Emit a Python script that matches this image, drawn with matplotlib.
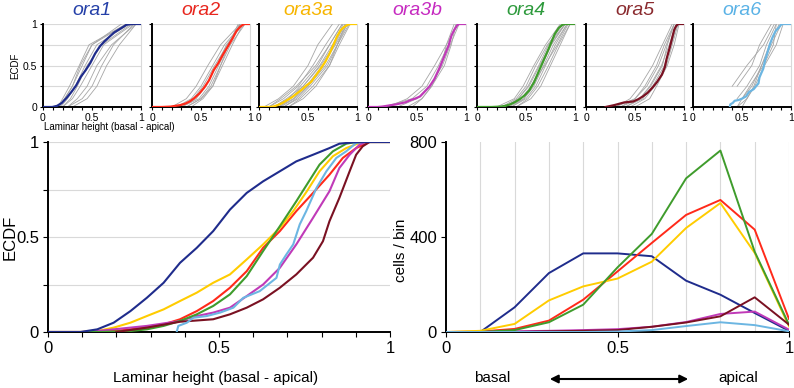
import numpy as np
import matplotlib
matplotlib.use("Agg")
import matplotlib.pyplot as plt

plt.rcParams['font.family'] = ['Liberation Sans', 'DejaVu Sans']

names = ['ora1', 'ora2', 'ora3a', 'ora3b', 'ora4', 'ora5', 'ora6']
colors = ['#1f2c8c', '#ff2a1a', '#ffcc00', '#c03ab8', '#3f9c2c', '#7a1122', '#6cb6e2']
title_colors = ['#2540a8', '#e8261e', '#f7b500', '#c62ac0', '#2d9a3c', '#8a2a2e', '#5ab2e6']

# pooled ECDFs (x, y)
ecdf_x = {
    'ora1': [0, 0.095, 0.144, 0.192, 0.241, 0.289, 0.338, 0.386, 0.435, 0.483, 0.532, 0.581,
             0.629, 0.678, 0.726, 0.775, 0.823, 0.852, 0.891, 0.93, 1],
    'ora2': [0, 0.1, 0.192, 0.289, 0.338, 0.386, 0.435, 0.483, 0.532, 0.581, 0.629, 0.678,
             0.726, 0.775, 0.823, 0.862, 0.901, 0.94, 1],
    'ora3a': [0, 0.1, 0.144, 0.192, 0.241, 0.289, 0.338, 0.386, 0.435, 0.483, 0.532, 0.581,
              0.629, 0.678, 0.717, 0.757, 0.794, 0.833, 0.872, 0.911, 0.94, 1],
    'ora3b': [0, 0.1, 0.144, 0.192, 0.289, 0.386, 0.435, 0.483, 0.532, 0.581, 0.629, 0.678,
              0.726, 0.775, 0.823, 0.852, 0.882, 0.911, 0.93, 1],
    'ora4': [0, 0.15, 0.241, 0.289, 0.338, 0.386, 0.435, 0.483, 0.532, 0.581, 0.629, 0.678,
             0.726, 0.757, 0.794, 0.833, 0.872, 0.9, 1],
    'ora5': [0.2, 0.289, 0.386, 0.483, 0.532, 0.581, 0.629, 0.678, 0.726, 0.775, 0.804, 0.823,
             0.852, 0.882, 0.901, 0.92, 0.94, 1],
    'ora6': [0.377, 0.381, 0.406, 0.425, 0.464, 0.503, 0.542, 0.571, 0.619, 0.668, 0.678, 0.697,
             0.717, 0.736, 0.755, 0.785, 0.814, 0.843, 0.872, 0.901, 0.92, 1],
}
ecdf_y = {
    'ora1': [0, 0, 0.014, 0.049, 0.11, 0.18, 0.259, 0.364, 0.443, 0.531, 0.644, 0.732,
             0.793, 0.846, 0.898, 0.933, 0.968, 0.991, 0.998, 1, 1],
    'ora2': [0, 0, 0.005, 0.023, 0.04, 0.067, 0.11, 0.163, 0.233, 0.32, 0.443, 0.531,
             0.636, 0.732, 0.828, 0.916, 0.968, 1, 1],
    'ora3a': [0, 0, 0.005, 0.023, 0.049, 0.084, 0.119, 0.163, 0.207, 0.259, 0.303, 0.382,
              0.461, 0.548, 0.636, 0.741, 0.846, 0.925, 0.968, 0.995, 1, 1],
    'ora3b': [0, 0, 0.005, 0.014, 0.032, 0.058, 0.084, 0.102, 0.128, 0.189, 0.25, 0.338,
              0.461, 0.601, 0.741, 0.863, 0.933, 0.986, 1, 1],
    'ora4': [0, 0, 0.005, 0.014, 0.032, 0.058, 0.093, 0.137, 0.198, 0.294, 0.426, 0.557,
             0.688, 0.776, 0.881, 0.951, 0.991, 1, 1],
    'ora5': [0, 0.023, 0.054, 0.067, 0.093, 0.128, 0.172, 0.233, 0.303, 0.391, 0.478, 0.583,
             0.706, 0.846, 0.933, 0.977, 1, 1],
    'ora6': [0.005, 0.032, 0.049, 0.075, 0.084, 0.102, 0.128, 0.18, 0.215, 0.285, 0.355, 0.408,
             0.461, 0.566, 0.636, 0.758, 0.846, 0.916, 0.951, 0.995, 1, 1],
}

# individual samples: x at ECDF levels below (nan = curve starts higher)
levels = [0, 0.1, 0.25, 0.5, 0.75, 1]
nan = np.nan
samples = {
    'ora1': [[0.15, 0.2, 0.27, 0.37, 0.47, 0.85], [0.17, 0.22, 0.3, 0.4, 0.5, 0.8],
             [0.18, 0.25, 0.33, 0.43, 0.55, 0.88], [0.2, 0.28, 0.35, 0.45, 0.6, 0.9],
             [0.2, 0.3, 0.38, 0.5, 0.62, 0.92], [0.25, 0.35, 0.45, 0.55, 0.7, 0.95],
             [0.25, 0.4, 0.5, 0.6, 0.72, 0.93], [0.3, 0.45, 0.55, 0.65, 0.78, 0.95],
             [0.15, 0.22, 0.3, 0.38, 0.5, 0.85]],
    'ora2': [[0.2, 0.35, 0.45, 0.57, 0.7, 0.9], [0.25, 0.4, 0.5, 0.62, 0.74, 0.92],
             [0.3, 0.45, 0.55, 0.66, 0.76, 0.93], [0.3, 0.48, 0.58, 0.68, 0.78, 0.9],
             [0.35, 0.5, 0.6, 0.7, 0.8, 0.95], [0.4, 0.52, 0.62, 0.72, 0.82, 0.93],
             [0.28, 0.42, 0.52, 0.64, 0.77, 0.9], [0.35, 0.5, 0.62, 0.7, 0.78, 0.88]],
    'ora3a': [[0.05, 0.2, 0.35, 0.5, 0.6, 0.75], [0.1, 0.25, 0.4, 0.55, 0.68, 0.82],
              [0.15, 0.3, 0.42, 0.6, 0.72, 0.85], [0.2, 0.32, 0.45, 0.62, 0.75, 0.88],
              [0.2, 0.35, 0.48, 0.65, 0.78, 0.9], [0.25, 0.38, 0.5, 0.68, 0.8, 0.9],
              [0.25, 0.4, 0.52, 0.7, 0.8, 0.92], [0.3, 0.42, 0.55, 0.72, 0.82, 0.93],
              [0.15, 0.28, 0.45, 0.63, 0.77, 0.88], [0.3, 0.45, 0.58, 0.72, 0.8, 0.88],
              [0.1, 0.22, 0.38, 0.58, 0.72, 0.85], [0.22, 0.36, 0.5, 0.66, 0.76, 0.86]],
    'ora3b': [[0.2, 0.4, 0.55, 0.68, 0.8, 0.92], [0.15, 0.45, 0.6, 0.72, 0.82, 0.9],
              [0.3, 0.5, 0.63, 0.76, 0.84, 0.93], [0.4, 0.55, 0.65, 0.78, 0.85, 0.9],
              [0.45, 0.55, 0.65, 0.75, 0.8, 0.88]],
    'ora4': [[0.2, 0.38, 0.47, 0.58, 0.7, 0.85], [0.25, 0.4, 0.5, 0.6, 0.72, 0.88],
             [0.3, 0.42, 0.52, 0.63, 0.73, 0.9], [0.3, 0.45, 0.55, 0.66, 0.76, 0.9],
             [0.32, 0.48, 0.58, 0.68, 0.78, 0.92], [0.35, 0.5, 0.6, 0.7, 0.8, 0.92],
             [0.4, 0.52, 0.62, 0.73, 0.83, 0.95], [0.4, 0.55, 0.65, 0.75, 0.85, 0.95],
             [0.35, 0.48, 0.55, 0.69, 0.82, 0.93], [0.28, 0.42, 0.53, 0.64, 0.75, 0.9]],
    'ora5': [[0.3, 0.45, 0.55, 0.68, 0.78, 0.88], [0.3, 0.5, 0.6, 0.72, 0.8, 0.9],
             [0.35, 0.5, 0.62, 0.74, 0.82, 0.9], [0.4, 0.55, 0.65, 0.77, 0.85, 0.92],
             [0.4, 0.58, 0.68, 0.8, 0.87, 0.93], [0.45, 0.6, 0.7, 0.82, 0.88, 0.94],
             [0.5, 0.65, 0.72, 0.83, 0.9, 0.95], [0.35, 0.55, 0.66, 0.78, 0.83, 0.9]],
    'ora6': [[nan, nan, 0.4, 0.55, 0.72, 0.83], [nan, nan, 0.45, 0.6, 0.68, 0.8],
             [nan, 0.45, 0.55, 0.68, 0.75, 0.85], [0.45, 0.5, 0.6, 0.7, 0.78, 0.88],
             [0.5, 0.55, 0.62, 0.7, 0.8, 0.9], [nan, 0.5, 0.58, 0.72, 0.82, 0.85],
             [0.45, 0.55, 0.63, 0.73, 0.85, 0.92]],
}

# cells per bin
bins = [0, 0.1, 0.2, 0.3, 0.4, 0.5, 0.6, 0.7, 0.8, 0.9, 1.0]
counts = {
    'ora1': [0, 0, 104, 248, 331, 331, 319, 216, 157, 80, 5],
    'ora2': [0, 2, 13, 48, 136, 255, 375, 493, 556, 431, 55],
    'ora3a': [0, 5, 34, 133, 192, 225, 296, 438, 543, 333, 24],
    'ora3b': [0, 0, 3, 5, 8, 12, 22, 42, 76, 86, 10],
    'ora4': [0, 0, 8, 41, 115, 272, 413, 647, 764, 338, 31],
    'ora5': [0, 0, 0, 3, 5, 8, 22, 40, 66, 146, 31],
    'ora6': [0, 0, 0, 0, 0, 2, 8, 25, 41, 29, 3],
}

W, H = 794, 388
fig = plt.figure(figsize=(W / 100, H / 100), dpi=100)
grid_c = '#d9d9d9'


def px_axes(x0, y0, x1, y1):
    return fig.add_axes([x0 / W, 1 - y1 / H, (x1 - x0) / W, (y1 - y0) / H])


def style_ecdf(ax, size, ylabels):
    ax.set_xlim(0, 1)
    ax.set_ylim(0, 1)
    ax.set_xticks(np.arange(0, 1.01, 0.1))
    ax.set_xticklabels(['0', '', '', '', '', '0.5', '', '', '', '', '1'])
    ax.set_yticks([0, 0.25, 0.5, 0.75, 1])
    if ylabels:
        ax.set_yticklabels(['0', '', '0.5', '', '1'])
    else:
        ax.set_yticklabels([])
    for y in [0.25, 0.5, 0.75, 1]:
        ax.axhline(y, color=grid_c, lw=0.8, zorder=0)
    ax.spines['top'].set_visible(False)
    ax.spines['right'].set_color(grid_c)
    ax.spines['left'].set_linewidth(1.4)
    ax.spines['bottom'].set_linewidth(1.4)
    ax.tick_params(labelsize=size, length=2.5 if size < 10 else 3.5, width=0.8,
                   pad=1.5 if size < 10 else 3)


# top small panels
lefts = [43, 152, 259, 368, 477, 586, 693]
for i, nm in enumerate(names):
    ax = px_axes(lefts[i], 24, lefts[i] + 98, 107)
    style_ecdf(ax, 7.5, i == 0)
    for s in samples[nm]:
        ax.plot(s, levels, color='#a6a6a6', lw=0.6, zorder=1)
    ax.plot(ecdf_x[nm], ecdf_y[nm], color=colors[i], lw=1.6, zorder=3)
    fig.text((lefts[i] + 49) / W, 1 - 15 / H, nm, color=title_colors[i], fontsize=14,
             style='italic', ha='center', va='baseline')

fig.text(15 / W, 1 - 66 / H, 'ECDF', rotation=90, fontsize=7, ha='center', va='center')
fig.text(44 / W, 1 - 127 / H, 'Laminar height (basal - apical)', fontsize=7, ha='left', va='center')

# bottom left: pooled ECDFs
ax1 = px_axes(48, 142, 390, 332)
style_ecdf(ax1, 12, True)
ax1.spines['right'].set_visible(False)
for i, nm in enumerate(names):
    ax1.plot(ecdf_x[nm], ecdf_y[nm], color=colors[i], lw=1.5, zorder=3 + (i == 0))
fig.text(10 / W, 1 - 237 / H, 'ECDF', rotation=90, fontsize=12, ha='center', va='center')
fig.text(216 / W, 1 - 378 / H, 'Laminar height (basal - apical)', fontsize=11, ha='center', va='center')

# bottom right: counts per bin
ax2 = px_axes(446, 142, 789, 332)
ax2.set_xlim(0, 1)
ax2.set_ylim(0, 800)
ax2.set_xticks([0, 0.5, 1])
ax2.set_xticklabels(['0', '0.5', '1'])
ax2.set_yticks([0, 400, 800])
for x in bins[1:]:
    ax2.axvline(x, color=grid_c, lw=0.8, zorder=0)
ax2.spines['top'].set_visible(False)
ax2.spines['right'].set_visible(False)
ax2.spines['left'].set_linewidth(1.4)
ax2.spines['bottom'].set_linewidth(1.4)
ax2.tick_params(labelsize=12, length=3.5, width=0.8, pad=3)
for i, nm in enumerate(names):
    ax2.plot(bins, counts[nm], color=colors[i], lw=1.4, zorder=3)
fig.text(401 / W, 1 - 250 / H, 'cells / bin', rotation=90, fontsize=11, ha='center', va='center')

fig.text(492 / W, 1 - 378 / H, 'basal', fontsize=11, ha='center', va='center')
fig.text(738 / W, 1 - 378 / H, 'apical', fontsize=11, ha='center', va='center')
fig.add_artist(matplotlib.patches.FancyArrowPatch(
    (547 / W, 1 - 379 / H), (691 / W, 1 - 379 / H), transform=fig.transFigure,
    arrowstyle='<|-|>', mutation_scale=12, color='black', lw=1.5))

fig.savefig('out.png', dpi=100)
